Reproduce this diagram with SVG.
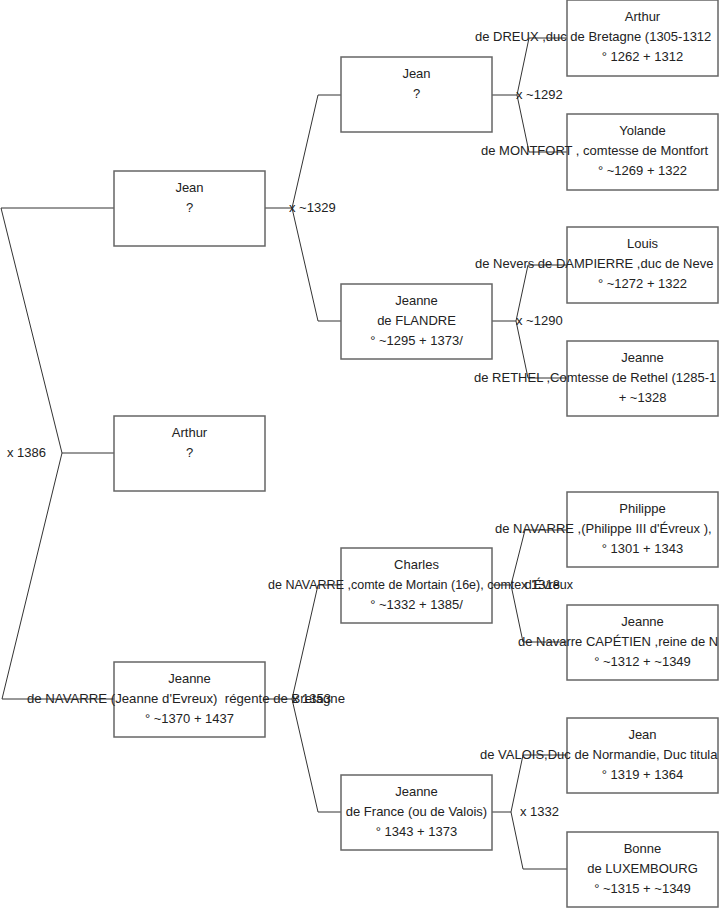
<svg xmlns="http://www.w3.org/2000/svg" width="719" height="908" viewBox="0 0 719 908">
<style>
.box{fill:#ffffff;stroke:#666666;stroke-width:1.5}
.t{font-family:"Liberation Sans",Arial,sans-serif;font-size:13px;fill:#222222}
.c{text-anchor:middle}
.ln{fill:none;stroke:#333333;stroke-width:1}
</style>
<rect width="719" height="908" fill="#ffffff"/>
<g id="connectors">
<polyline class="ln" points="114,208 1,208 62,453 2,699 114,699"/>
<line class="ln" x1="62" y1="453" x2="114" y2="453"/>
<polyline class="ln" points="341,95 318,95 292,208 318,321 341,321"/>
<line class="ln" x1="265" y1="208" x2="292" y2="208"/>
<polyline class="ln" points="341,585 318,585 292,699 318,812 341,812"/>
<line class="ln" x1="265" y1="699" x2="292" y2="699"/>
<polyline class="ln" points="567,38 529,38 517,95 529,152 567,152"/>
<line class="ln" x1="492" y1="95" x2="517" y2="95"/>
<polyline class="ln" points="567,265 528,265 516,321 528,378 567,378"/>
<line class="ln" x1="492" y1="321" x2="516" y2="321"/>
<polyline class="ln" points="567,530 525,530 511,585 523,642 567,642"/>
<line class="ln" x1="492" y1="585" x2="511" y2="585"/>
<polyline class="ln" points="567,755 523,755 511,812 523,869 567,869"/>
<line class="ln" x1="492" y1="812" x2="511" y2="812"/>
<text class="t" x="7" y="457">x 1386</text>
<text class="t" x="289" y="212">x ~1329</text>
<text class="t" x="292" y="703">x 1353</text>
<text class="t" x="516" y="99">x ~1292</text>
<text class="t" x="516" y="325">x ~1290</text>
<text class="t" x="521" y="589">x 1318</text>
<text class="t" x="520" y="816">x 1332</text>
</g>
<g id="n-jean1">
<rect class="box" x="114" y="171" width="151" height="75"/>
<text class="t c" x="189.5" y="192">Jean</text>
<text class="t c" x="189.5" y="212">?</text>
</g>
<g id="n-arthur1">
<rect class="box" x="114" y="416" width="151" height="75"/>
<text class="t c" x="189.5" y="437">Arthur</text>
<text class="t c" x="189.5" y="457">?</text>
</g>
<g id="n-jeanne1">
<rect class="box" x="114" y="662" width="151" height="75"/>
<text class="t c" x="189.5" y="683">Jeanne</text>
<text class="t" x="27" y="703" textLength="318" lengthAdjust="spacingAndGlyphs" xml:space="preserve">de NAVARRE (Jeanne d'Evreux)  régente de Bretagne</text>
<text class="t c" x="189.5" y="723">° ~1370 + 1437</text>
</g>
<g id="n-jean2">
<rect class="box" x="341" y="57" width="151" height="75"/>
<text class="t c" x="416.5" y="78">Jean</text>
<text class="t c" x="416.5" y="98">?</text>
</g>
<g id="n-jeanne-flandre">
<rect class="box" x="341" y="284" width="151" height="75"/>
<text class="t c" x="416.5" y="305">Jeanne</text>
<text class="t c" x="416.5" y="325">de FLANDRE</text>
<text class="t c" x="416.5" y="345">° ~1295 + 1373/</text>
</g>
<g id="n-charles">
<rect class="box" x="341" y="548" width="151" height="75"/>
<text class="t c" x="416.5" y="569">Charles</text>
<text class="t" x="268" y="589" textLength="305" lengthAdjust="spacingAndGlyphs">de NAVARRE ,comte de Mortain (16e), comte d'Évreux</text>
<text class="t c" x="416.5" y="609">° ~1332 + 1385/</text>
</g>
<g id="n-jeanne-france">
<rect class="box" x="341" y="775" width="151" height="75"/>
<text class="t c" x="416.5" y="796">Jeanne</text>
<text class="t c" x="416.5" y="816">de France (ou de Valois)</text>
<text class="t c" x="416.5" y="836">° 1343 + 1373</text>
</g>
<g id="n-arthur3">
<rect class="box" x="567" y="0" width="151" height="76"/>
<text class="t c" x="642.5" y="21">Arthur</text>
<text class="t" x="475" y="41">de DREUX ,duc de Bretagne (1305-1312</text>
<text class="t c" x="642.5" y="61">° 1262 + 1312</text>
</g>
<g id="n-yolande">
<rect class="box" x="567" y="114" width="151" height="76"/>
<text class="t c" x="642.5" y="135">Yolande</text>
<text class="t" x="481" y="155">de MONTFORT , comtesse de Montfort</text>
<text class="t c" x="642.5" y="175">° ~1269 + 1322</text>
</g>
<g id="n-louis">
<rect class="box" x="567" y="227" width="151" height="76"/>
<text class="t c" x="642.5" y="248">Louis</text>
<text class="t" x="475" y="268">de Nevers de DAMPIERRE ,duc de Neve</text>
<text class="t c" x="642.5" y="288">° ~1272 + 1322</text>
</g>
<g id="n-jeanne-rethel">
<rect class="box" x="567" y="341" width="151" height="75"/>
<text class="t c" x="642.5" y="362">Jeanne</text>
<text class="t" x="474" y="382">de RETHEL ,Comtesse de Rethel (1285-1</text>
<text class="t c" x="642.5" y="402">+ ~1328</text>
</g>
<g id="n-philippe">
<rect class="box" x="567" y="492" width="151" height="75"/>
<text class="t c" x="642.5" y="513">Philippe</text>
<text class="t" x="495" y="533">de NAVARRE ,(Philippe III d'Évreux ),</text>
<text class="t c" x="642.5" y="553">° 1301 + 1343</text>
</g>
<g id="n-jeanne-navarre">
<rect class="box" x="567" y="605" width="151" height="75"/>
<text class="t c" x="642.5" y="626">Jeanne</text>
<text class="t" x="518" y="646">de Navarre CAPÉTIEN ,reine de N</text>
<text class="t c" x="642.5" y="666">° ~1312 + ~1349</text>
</g>
<g id="n-jean-valois">
<rect class="box" x="567" y="718" width="151" height="75"/>
<text class="t c" x="642.5" y="739">Jean</text>
<text class="t" x="480" y="759">de VALOIS,Duc de Normandie, Duc titula</text>
<text class="t c" x="642.5" y="779">° 1319 + 1364</text>
</g>
<g id="n-bonne">
<rect class="box" x="567" y="832" width="151" height="75"/>
<text class="t c" x="642.5" y="853">Bonne</text>
<text class="t c" x="642.5" y="873">de LUXEMBOURG</text>
<text class="t c" x="642.5" y="893">° ~1315 + ~1349</text>
</g>
</svg>
